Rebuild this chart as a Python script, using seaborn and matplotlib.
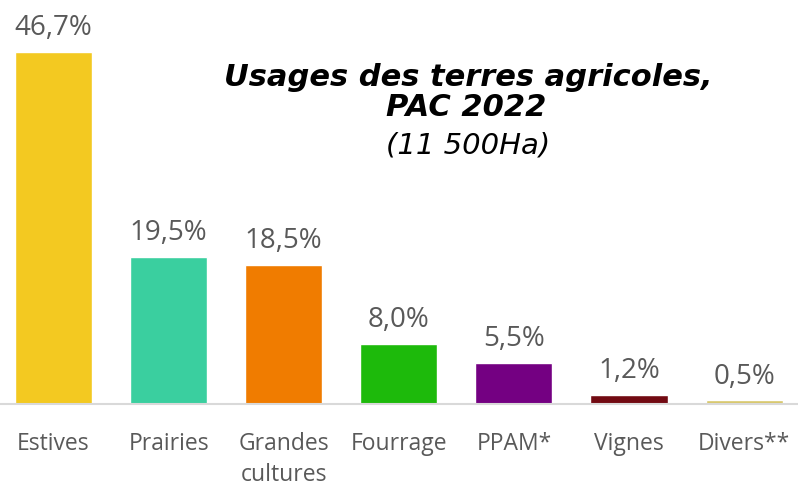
import pandas as pd
import matplotlib.pyplot as plt
import seaborn as sns

categories = ["Estives", "Prairies", "Grandes\ncultures", "Fourrage", "PPAM*", "Vignes", "Divers**"]
shares = [46.7, 19.5, 18.5, 8.0, 5.5, 1.2, 0.5]
labels = ["46,7%", "19,5%", "18,5%", "8,0%", "5,5%", "1,2%", "0,5%"]
colors = ["#F3C921", "#3ACF9F", "#F07C00", "#1DBA0B", "#740082", "#720A12", "#D8C86B"]

df = pd.DataFrame({"usage": categories, "part": shares})

sns.set_style("white")
plt.rcParams['font.family'] = ['Open Sans', 'DejaVu Sans']

fig = plt.figure(figsize=(7.98, 4.88), dpi=100)
ax = fig.add_axes([0, 84 / 488, 1, 404 / 488])

sns.barplot(data=df, x="usage", y="part", hue="usage", palette=colors,
            width=0.67, legend=False, ax=ax, saturation=1)

ax.set_ylim(0, 53.6)
ax.set_xlim(-0.465, 6.468)
for i, (v, t) in enumerate(zip(shares, labels)):
    ax.annotate(t, (i, v), xytext=(0, 7), textcoords="offset points",
                ha="center", va="bottom", fontsize=20, color="#595959")

ax.set_xlabel("")
ax.set_ylabel("")
ax.set_yticks([])
ax.tick_params(axis="x", length=0, pad=20, labelsize=16.5, labelcolor="#595959")
for lab in ax.get_xticklabels():
    lab.set_va("top")
    lab.set_linespacing(1.4)
sns.despine(ax=ax, left=True, top=True, right=True)
ax.spines["bottom"].set_color("#D9D9D9")
ax.spines["bottom"].set_linewidth(1.5)

title_font = ['DejaVu Sans']
fig.text(0.587, 1 - 77 / 488, "Usages des terres agricoles,", ha="center", va="center",
         fontsize=22, fontweight="bold", fontstyle="italic", family=title_font, color="black")
fig.text(0.584, 1 - 108 / 488, "PAC 2022", ha="center", va="center",
         fontsize=22, fontweight="bold", fontstyle="italic", family=title_font, color="black")
fig.text(0.587, 1 - 145 / 488, "(11 500Ha)", ha="center", va="center",
         fontsize=21, fontstyle="italic", family=title_font, color="black")

fig.savefig("out.png", dpi=100)
